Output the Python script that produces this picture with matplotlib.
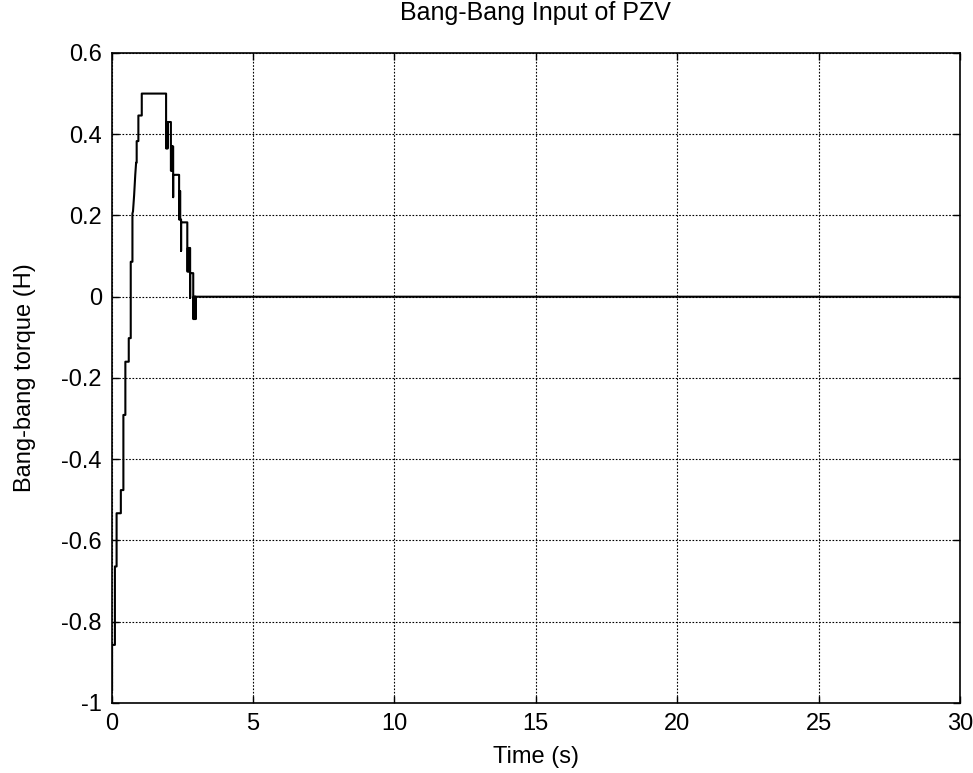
import matplotlib
matplotlib.use("Agg")
import matplotlib.pyplot as plt
import numpy as np

plt.rcParams['font.family'] = ['Liberation Sans', 'DejaVu Sans']

# bang-bang torque trace (vertices of the step line)
time_pts = [0.00, 0.02, 0.02, 0.12, 0.12, 0.18, 0.18, 0.33, 0.33, 0.42, 0.42,
            0.49, 0.49, 0.61, 0.61, 0.68, 0.68, 0.74, 0.74, 0.76, 0.80, 0.84,
            0.87, 0.89, 0.89, 0.95, 0.95, 1.07, 1.07, 1.93,
            # first thick drop
            1.93, 1.95, 1.95, 1.97, 1.97, 1.99, 1.99, 2.10,
            # second
            2.10, 2.12, 2.12, 2.14, 2.14, 2.16, 2.16, 2.18, 2.18, 2.18, 2.39,
            # third
            2.39, 2.41, 2.41, 2.43, 2.43, 2.46, 2.46, 2.46, 2.68,
            # fourth
            2.68, 2.70, 2.70, 2.72, 2.72, 2.76, 2.76, 2.78, 2.78, 2.78, 2.89,
            # last
            2.89, 2.91, 2.91, 2.93, 2.93, 2.95, 2.95, 2.97, 2.97, 2.97, 30.0]
torque_pts = [-0.97, -0.97, -0.857, -0.857, -0.664, -0.664, -0.533, -0.533, -0.476, -0.476, -0.291,
              -0.291, -0.160, -0.160, -0.102, -0.102, 0.086, 0.086, 0.205, 0.21, 0.25, 0.30,
              0.33, 0.33, 0.383, 0.383, 0.446, 0.446, 0.50, 0.50,
              0.365, 0.365, 0.43, 0.43, 0.365, 0.365, 0.43, 0.43,
              0.31, 0.31, 0.37, 0.37, 0.31, 0.31, 0.37, 0.37, 0.245, 0.30, 0.30,
              0.19, 0.19, 0.26, 0.26, 0.19, 0.19, 0.113, 0.183, 0.183,
              0.062, 0.062, 0.12, 0.12, 0.062, 0.062, 0.12, 0.12, -0.003, 0.058, 0.058,
              -0.055, -0.055, 0.0, 0.0, -0.055, -0.055, 0.0, 0.0, -0.055, 0.0, 0.0]

x_ticks = [0, 5, 10, 15, 20, 25, 30]
y_ticks = [-1, -0.8, -0.6, -0.4, -0.2, 0, 0.2, 0.4, 0.6]
y_labels = ['-1', '-0.8', '-0.6', '-0.4', '-0.2', '0', '0.2', '0.4', '0.6']

fig = plt.figure(figsize=(9.73, 7.73), dpi=100)
ax = fig.add_axes([0.1146, 0.0906, 0.872, 0.8409])

ax.plot(time_pts, torque_pts, color='black', linewidth=1.5)

ax.set_xlim(0, 30)
ax.set_ylim(-1, 0.6)
ax.set_xticks(x_ticks)
ax.set_yticks(y_ticks)
ax.set_yticklabels(y_labels)
ax.grid(True, color='black', linestyle=(0, (1.5, 1.5)), linewidth=0.8)
ax.tick_params(direction='in', length=5, width=1, top=True, right=True,
               labelsize=17, pad=7, colors='black')
for s in ax.spines.values():
    s.set_linewidth(1.2)

ax.set_title('Bang-Bang Input of PZV', fontsize=18, pad=24)
ax.set_xlabel('Time (s)', fontsize=17, labelpad=8)
ax.set_ylabel('Bang-bang torque (H)', fontsize=17, labelpad=18)

fig.savefig('out.png', dpi=100)
